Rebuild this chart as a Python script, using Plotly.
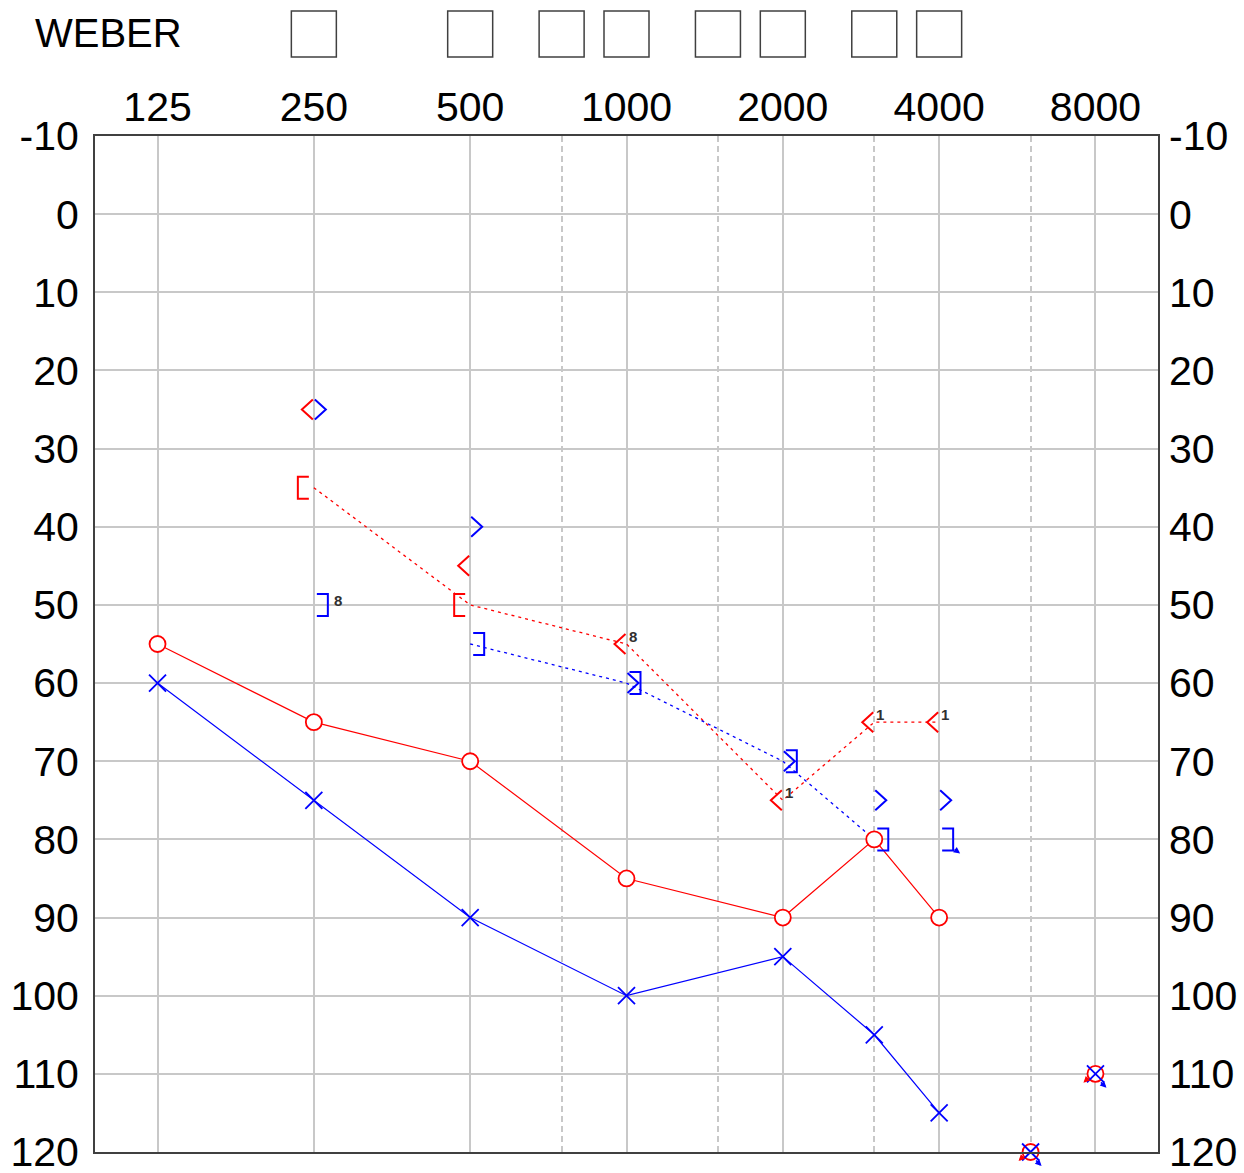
import numpy as np
import plotly.graph_objects as go

# Axis layout: octave frequencies, half-octave frequencies, hearing level ticks
FREQ_TICKS = [125, 250, 500, 1000, 2000, 4000, 8000]
FREQ_HALF = [750, 1500, 3000, 6000]
DB_TICKS = list(range(-10, 121, 10))
DB_LABELS = [str(v) for v in DB_TICKS]
WEBER_FREQS = [250, 500, 750, 1000, 1500, 2000, 3000, 4000]

# Air conduction: right ear (O), left ear (X)
right_air_freq = [125, 250, 500, 1000, 2000, 3000, 4000]
right_air_db = [55, 65, 70, 85, 90, 80, 90]
left_air_freq = [125, 250, 500, 1000, 2000, 3000, 4000]
left_air_db = [60, 75, 90, 100, 95, 105, 115]

# Air conduction, no response at output limit
right_air_nr_freq = [6000, 8000]
right_air_nr_db = [120, 110]
left_air_nr_freq = [6000, 8000]
left_air_nr_db = [120, 110]

# Unmasked bone conduction: right "<", left ">"
right_bone_freq = [250, 500, 1000, 2000, 3000, 4000]
right_bone_db = [25, 45, 55, 75, 65, 65]
right_bone_note = ["", "", "8", "1", "1", "1"]
left_bone_freq = [250, 500, 1000, 2000, 3000, 4000]
left_bone_db = [25, 40, 60, 70, 75, 75]

# Masked bone conduction: right "[", left "]"
right_bone_m_freq = [250, 500]
right_bone_m_db = [35, 50]
left_bone_m_freq = [250, 500, 1000, 2000, 3000, 4000]
left_bone_m_db = [50, 55, 60, 70, 80, 80]
left_bone_m_note = ["8", "", "", "", "", ""]
left_bone_m_nr = [False, False, False, False, False, True]

# Bone conduction curves (dotted)
right_bone_line_freq = [250, 500, 1000, 2000, 3000, 4000]
right_bone_line_db = [35, 50, 55, 75, 65, 65]
left_bone_line_freq = [500, 1000, 2000, 3000]
left_bone_line_db = [55, 60, 70, 80]

RED = "#ff0000"
BLUE = "#0000ff"
GRID = "#c8c8c8"
FRAME = "#404040"
FONT = "Arial, Liberation Sans, sans-serif"


def oct_pos(freqs):
    return list(np.log2(np.asarray(freqs, dtype=float)))


fig = go.Figure()

# Dotted bone conduction curves
fig.add_trace(go.Scatter(x=oct_pos(right_bone_line_freq), y=right_bone_line_db, mode="lines",
                         line=dict(color=RED, width=1.3, dash="3px,4px"), hoverinfo="skip"))
fig.add_trace(go.Scatter(x=oct_pos(left_bone_line_freq), y=left_bone_line_db, mode="lines",
                         line=dict(color=BLUE, width=1.3, dash="3px,4px"), hoverinfo="skip"))

# Air conduction curves
O_MARK = dict(symbol="circle", size=16, color="white", line=dict(color=RED, width=1.8))
X_MARK = dict(symbol="x-thin", size=17, color=BLUE, line=dict(color=BLUE, width=1.8))
fig.add_trace(go.Scatter(x=oct_pos(right_air_freq), y=right_air_db, mode="lines+markers",
                         line=dict(color=RED, width=1.2), marker=O_MARK,
                         cliponaxis=False, hoverinfo="skip"))
fig.add_trace(go.Scatter(x=oct_pos(left_air_freq), y=left_air_db, mode="lines+markers",
                         line=dict(color=BLUE, width=1.2), marker=X_MARK,
                         cliponaxis=False, hoverinfo="skip"))
fig.add_trace(go.Scatter(x=oct_pos(right_air_nr_freq), y=right_air_nr_db, mode="markers",
                         marker=O_MARK, cliponaxis=False, hoverinfo="skip"))
fig.add_trace(go.Scatter(x=oct_pos(left_air_nr_freq), y=left_air_nr_db, mode="markers",
                         marker=X_MARK, cliponaxis=False, hoverinfo="skip"))

# Right-hand axis carrier
fig.add_trace(go.Scatter(x=[None], y=[None], yaxis="y2", mode="markers",
                         showlegend=False, hoverinfo="skip"))

shapes = []
annotations = []

# Symbol outlines in pixels relative to the data point
PATH_LT = "M -1,10 L -12,0 L -1,-10"
PATH_GT = "M 1,10 L 12,0 L 1,-10"
PATH_LB = "M -5,11 L -16,11 L -16,-11 L -5,-11"
PATH_RB = "M 3,11 L 14,11 L 14,-11 L 3,-11"


def symbol(path, f, db, color):
    return dict(type="path", path=path, xref="x", yref="y",
                xsizemode="pixel", ysizemode="pixel",
                xanchor=float(np.log2(f)), yanchor=db,
                line=dict(color=color, width=2), layer="above")


def note(f, db, text, dx, dy):
    return dict(x=float(np.log2(f)), y=db, xref="x", yref="y", text="<b>%s</b>" % text,
                showarrow=False, xshift=dx, yshift=dy,
                font=dict(family=FONT, size=15, color="#303030"))


def nr_arrow(f, db, dx, dy, ax, ay, color):
    return dict(x=float(np.log2(f)), y=db, xref="x", yref="y", text="",
                showarrow=True, xshift=dx, yshift=dy, ax=ax, ay=ay,
                arrowhead=2, arrowsize=0.8, arrowwidth=1.6, arrowcolor=color)


for f, db, t in zip(right_bone_freq, right_bone_db, right_bone_note):
    shapes.append(symbol(PATH_LT, f, db, RED))
    if t:
        annotations.append(note(f, db, t, 6, 8))
for f, db in zip(left_bone_freq, left_bone_db):
    shapes.append(symbol(PATH_GT, f, db, BLUE))
for f, db in zip(right_bone_m_freq, right_bone_m_db):
    shapes.append(symbol(PATH_LB, f, db, RED))
for f, db, t, nr in zip(left_bone_m_freq, left_bone_m_db, left_bone_m_note, left_bone_m_nr):
    shapes.append(symbol(PATH_RB, f, db, BLUE))
    if t:
        annotations.append(note(f, db, t, 24, 4))
    if nr:
        annotations.append(nr_arrow(f, db, 21, -14, -7, -5, BLUE))

for f, db in zip(right_air_nr_freq, right_air_nr_db):
    annotations.append(nr_arrow(f, db, -12, -9, 6, -6, RED))
for f, db in zip(left_air_nr_freq, left_air_nr_db):
    annotations.append(nr_arrow(f, db, 11, -14, -7, -7, BLUE))

# Weber boxes above the grid
for f in WEBER_FREQS:
    shapes.append(dict(type="rect", xref="x", yref="paper", xsizemode="pixel",
                       xanchor=float(np.log2(f)), x0=-22.5, x1=22.5,
                       y0=1.0778, y1=1.123, line=dict(color=FRAME, width=1.5)))

annotations.append(dict(x=-0.0583, y=1.1014, xref="paper", yref="paper", text="WEBER",
                        showarrow=False, xanchor="left", yanchor="middle",
                        font=dict(family=FONT, size=40, color="black")))

xlo = np.log2(FREQ_TICKS[0]) - 0.4
xhi = np.log2(FREQ_TICKS[-1]) + 0.4

TICKFONT = dict(family=FONT, size=41, color="black")

fig.update_layout(
    width=1244, height=1173,
    margin=dict(l=95, r=86, t=136, b=21, pad=0),
    paper_bgcolor="white", plot_bgcolor="white",
    showlegend=False,
    font=dict(family=FONT, size=40, color="black"),
    xaxis=dict(range=[xlo, xhi], side="top", tickmode="array",
               tickvals=oct_pos(FREQ_TICKS), ticktext=[str(f) for f in FREQ_TICKS],
               showgrid=True, gridcolor=GRID, gridwidth=2, zeroline=False,
               showline=True, linecolor=FRAME, linewidth=2, mirror=True, ticks="",
               ticklabelstandoff=-3, automargin=False, ticklabeloverflow="allow",
               minor=dict(tickmode="array", tickvals=oct_pos(FREQ_HALF), showgrid=True,
                          gridcolor=GRID, gridwidth=1.5, griddash="6px,4px", ticks=""),
               tickfont=TICKFONT, fixedrange=True),
    yaxis=dict(range=[120, -10], tickmode="array", tickvals=DB_TICKS, ticktext=DB_LABELS,
               showgrid=True, gridcolor=GRID, gridwidth=2, zeroline=False,
               showline=True, linecolor=FRAME, linewidth=2, mirror=True, ticks="",
               ticklabelstandoff=6, automargin=False, ticklabeloverflow="allow",
               tickfont=TICKFONT, fixedrange=True),
    yaxis2=dict(range=[120, -10], overlaying="y", side="right", tickmode="array",
                tickvals=DB_TICKS, ticktext=DB_LABELS, showgrid=False, zeroline=False,
                showline=False, ticks="", ticklabelstandoff=10, automargin=False,
                ticklabeloverflow="allow", tickfont=TICKFONT, fixedrange=True),
    shapes=shapes,
    annotations=annotations,
)

fig.write_html("out.html")
